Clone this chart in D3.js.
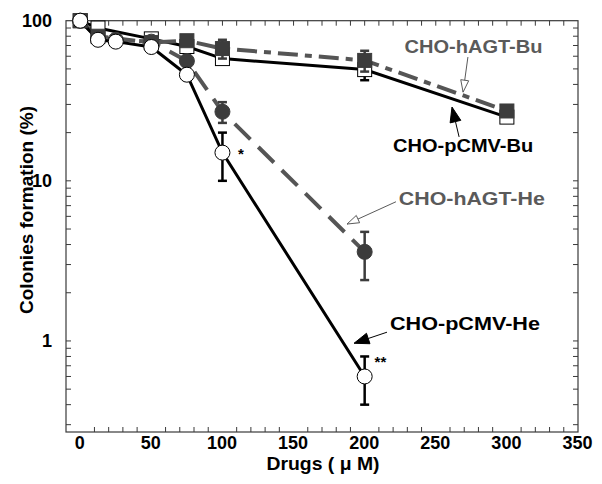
<!DOCTYPE html>
<html><head><meta charset="utf-8">
<script src="https://cdn.jsdelivr.net/npm/d3@7/dist/d3.min.js"></script>
<style>body{margin:0;background:#fff}svg{display:block}</style>
</head><body><svg id="c" width="602" height="484"></svg>
<script>
// ---- data ----
const doseBu = [0, 12.5, 50, 75, 100, 200, 300];
const doseHe = [0, 12.5, 25, 50, 75, 100, 200];
const pCMV_Bu = [100, 90, 77, 69, 58, 49.5, 25];
const pCMV_Bu_err = [0, 0, 0, 0, 0, 7, 0];
const hAGT_Bu = [100, 80, 73, 75, 67, 56.5, 27.3];
const hAGT_Bu_err = [0, 0, 0, 0, 9, 8.4, 0];
const hAGT_He = [100, 78, 76, 74, 56, 27, 3.6];
const hAGT_He_err = [0, 0, 0, 0, 0, 4, 1.2];
const pCMV_He = [100, 76, 74, 68.5, 46, 15, 0.6];
const pCMV_He_err = [0, 0, 0, 0, 0, 5, 0.2];
const xTickLabels = [0, 50, 100, 150, 200, 250, 300, 350];
const yTickLabels = [1, 10, 100];
const annotations = [
  {text: "CHO-hAGT-Bu", at: [228, 63], from: [272.6, 59.3], to: [269.2, 35.8], color: "#5a5a5a", head: "open", len: 138},
  {text: "CHO-pCMV-Bu", at: [220, 15.1], from: [266.4, 18.8], to: [261.4, 28.9], color: "#000", head: "filled", len: 140},
  {text: "CHO-hAGT-He", at: [224, 7.05], from: [222, 7.4], to: [187.6, 5.37], color: "#5a5a5a", head: "open", len: 146},
  {text: "CHO-pCMV-He", at: [217.8, 1.166], from: [215.7, 1.134], to: [192.5, 0.967], color: "#000", head: "filled", len: 150}
];
const stars = [{text: "*", at: [111, 15]}, {text: "**", at: [207, 0.76]}];

// ---- scales ----
const svg = d3.select("#c");
const x = d3.scaleLinear().domain([-10, 350]).range([66, 578]);
const y = d3.scaleLog().domain([0.27, 100]).range([432, 20.7]);
const font = "'Liberation Sans', Arial, Helvetica, sans-serif";

// frame
const frameColor = "#3a3a3a";
svg.append("rect").attr("x", x(-10)).attr("y", y(100)).attr("width", x(350) - x(-10)).attr("height", y(0.27) - y(100))
  .attr("fill", "none").attr("stroke", frameColor).attr("stroke-width", 1.2);

// minor ticks
const xt = d3.range(10, 350, 10);
const tickG = svg.append("g").attr("stroke", frameColor).attr("stroke-width", 1);
xt.forEach(v => {
  if (v % 50 !== 0) tickG.append("line").attr("x1", x(v)).attr("x2", x(v)).attr("y1", y(0.27)).attr("y2", y(0.27) - 5);
  tickG.append("line").attr("x1", x(v)).attr("x2", x(v)).attr("y1", y(100)).attr("y2", y(100) + 5);
});
const yt = [];
[0.1, 1, 10].forEach(d => { for (let k = 1; k <= 9; k++) { const v = d * k; if (v > 0.27 && v < 100) yt.push(v); } });
yt.forEach(v => {
  tickG.append("line").attr("x1", x(-10)).attr("x2", x(-10) + 5).attr("y1", y(v)).attr("y2", y(v));
  tickG.append("line").attr("x1", x(350)).attr("x2", x(350) - 5).attr("y1", y(v)).attr("y2", y(v));
});

// axes labels via d3 axes (no tick lines)
const xAxis = d3.axisBottom(x).tickValues(xTickLabels).tickSize(0).tickPadding(4).tickFormat(d3.format("d"));
const gx = svg.append("g").attr("transform", `translate(0,${y(0.27)})`).call(xAxis);
gx.select(".domain").remove();
gx.selectAll("text").attr("font-family", font).attr("font-weight", "bold").attr("font-size", 18).attr("fill", "#000").attr("dx", -1);
const yAxis = d3.axisLeft(y).tickValues(yTickLabels).tickSize(0).tickPadding(14).tickFormat(d3.format("d"));
const gy = svg.append("g").attr("transform", `translate(${x(-10)},0)`).call(yAxis);
gy.select(".domain").remove();
gy.selectAll("text").attr("font-family", font).attr("font-weight", "bold").attr("font-size", 18).attr("fill", "#000").attr("dy", "0.3em");

svg.append("text").attr("x", 323).attr("y", 470).attr("text-anchor", "middle")
  .attr("font-family", font).attr("font-weight", "bold").attr("font-size", 19)
  .attr("textLength", 113).attr("lengthAdjust", "spacingAndGlyphs").text("Drugs ( μ M)");
svg.append("text").attr("transform", "translate(33,210) rotate(-90)").attr("text-anchor", "middle")
  .attr("font-family", font).attr("font-weight", "bold").attr("font-size", 19).text("Colonies formation (%)");

// ---- series ----
const series = [
  {dose: doseBu, v: pCMV_Bu, e: pCMV_Bu_err, color: "#000", fill: "#fff", stroke: "#000", dash: null, w: 3, marker: "square"},
  {dose: doseBu, v: hAGT_Bu, e: hAGT_Bu_err, color: "#555", fill: "#3c3c3c", stroke: "#3c3c3c", dash: "20,7,7,7", w: 4, marker: "square"},
  {dose: doseHe, v: hAGT_He, e: hAGT_He_err, color: "#555", fill: "#3c3c3c", stroke: "#3c3c3c", dash: "22,11", w: 4, marker: "circle"},
  {dose: doseHe, v: pCMV_He, e: pCMV_He_err, color: "#000", fill: "#fff", stroke: "#000", dash: null, w: 3, marker: "circle"}
];
const line = d3.line().x(d => x(d[0])).y(d => y(d[1]));
series.forEach(s => {
  const pts = s.dose.map((d, i) => [d, s.v[i]]);
  svg.append("path").attr("d", line(pts)).attr("fill", "none").attr("stroke", s.color)
    .attr("stroke-width", s.w).attr("stroke-dasharray", s.dash);
});
series.forEach(s => {
  const g = svg.append("g");
  s.dose.forEach((d, i) => {
    const cx = x(d), cy = y(s.v[i]);
    if (s.e[i] > 0) {
      const y1 = y(s.v[i] + s.e[i]), y2 = y(s.v[i] - s.e[i]);
      g.append("line").attr("x1", cx).attr("x2", cx).attr("y1", y1).attr("y2", y2).attr("stroke", s.stroke).attr("stroke-width", 2.5);
      [y1, y2].forEach(yy => g.append("line").attr("x1", cx - 4.5).attr("x2", cx + 4.5).attr("y1", yy).attr("y2", yy).attr("stroke", s.stroke).attr("stroke-width", 2.5));
    }
    if (s.marker === "square") {
      g.append("rect").attr("x", cx - 7).attr("y", cy - 7).attr("width", 14).attr("height", 14)
        .attr("fill", s.fill).attr("stroke", s.stroke).attr("stroke-width", 1);
    } else {
      g.append("circle").attr("cx", cx).attr("cy", cy).attr("r", 7.5)
        .attr("fill", s.fill).attr("stroke", s.stroke).attr("stroke-width", 1);
    }
  });
});

// ---- annotations ----
annotations.forEach(a => {
  const x1 = x(a.from[0]), y1 = y(a.from[1]), x2 = x(a.to[0]), y2 = y(a.to[1]);
  const ang = Math.atan2(y2 - y1, x2 - x1);
  const L = a.head === "filled" ? 15 : 12, W = a.head === "filled" ? 5.5 : 4;
  const bx = x2 - L * Math.cos(ang), by = y2 - L * Math.sin(ang);
  const px = -Math.sin(ang), py = Math.cos(ang);
  svg.append("line").attr("x1", x1).attr("y1", y1).attr("x2", a.head === "filled" ? bx : x2).attr("y2", a.head === "filled" ? by : y2)
    .attr("stroke", a.color).attr("stroke-width", 1);
  const tri = [[x2, y2], [bx + px * W, by + py * W], [bx - px * W, by - py * W]];
  svg.append("path").attr("d", "M" + tri.map(p => p.join(",")).join("L") + "Z")
    .attr("fill", a.head === "filled" ? "#000" : "#fff").attr("stroke", a.color).attr("stroke-width", 1);
  svg.append("text").attr("x", x(a.at[0])).attr("y", y(a.at[1])).attr("fill", a.color)
    .attr("font-family", font).attr("font-weight", "bold").attr("font-size", 19)
    .attr("textLength", a.len).attr("lengthAdjust", "spacingAndGlyphs").text(a.text);
});
stars.forEach(s => {
  svg.append("text").attr("x", x(s.at[0])).attr("y", y(s.at[1])).attr("font-family", font).attr("font-weight", "bold")
    .attr("font-size", 15).attr("dy", "0.45em").text(s.text);
});
</script></body></html>
